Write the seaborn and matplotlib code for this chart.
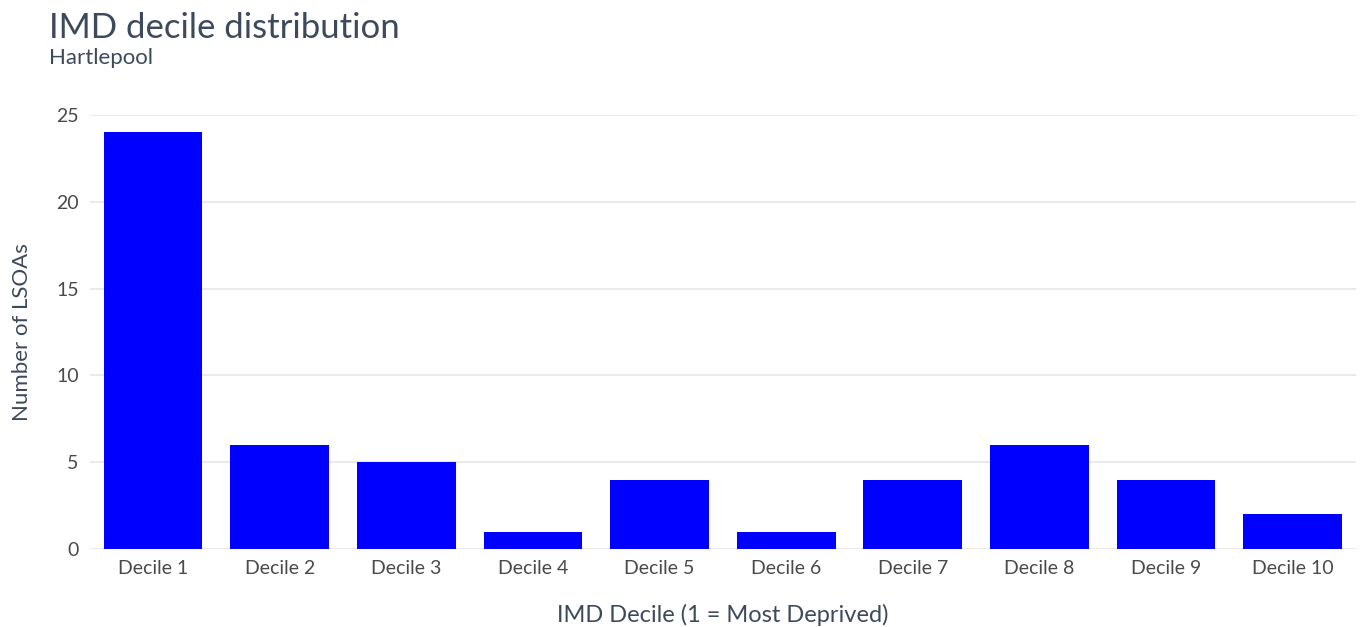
import pandas as pd
import matplotlib
matplotlib.use("Agg")
import matplotlib.pyplot as plt
import seaborn as sns

deciles = ["Decile 1", "Decile 2", "Decile 3", "Decile 4", "Decile 5",
           "Decile 6", "Decile 7", "Decile 8", "Decile 9", "Decile 10"]
lsoa_counts = [24, 6, 5, 1, 4, 1, 4, 6, 4, 2]

sns.set_theme(style="white")
plt.rcParams["font.family"] = ["Lato", "DejaVu Sans"]

df = pd.DataFrame({"decile": deciles, "count": lsoa_counts})

fig = plt.figure(figsize=(13.6, 6.27), dpi=100)
ax = fig.add_axes([0.066, 0.124, 0.931, 0.693])

ax.yaxis.grid(True, color="#e6e6e6", linewidth=1.2)
ax.set_axisbelow(True)
sns.barplot(data=df, x="decile", y="count", color="#0000ff", saturation=1,
            width=0.78, linewidth=0, ax=ax)

ax.set_ylim(0, 25)
ax.set_yticks([0, 5, 10, 15, 20, 25])
ax.set_xlim(-0.5, len(deciles) - 0.5)
for s in ax.spines.values():
    s.set_visible(False)
ax.tick_params(axis="both", length=0, labelsize=14, colors="#4a4a4a", pad=8)

ax.set_xlabel("IMD Decile (1 = Most Deprived)", fontsize=17, color="#3d4a5c", labelpad=19)
ax.set_ylabel("Number of LSOAs", fontsize=16, color="#3d4a5c", labelpad=17)

fig.text(0.036, 0.955, "IMD decile distribution", fontsize=25, color="#3d4a5c", va="center")
fig.text(0.036, 0.908, "Hartlepool", fontsize=16, color="#3d4a5c", va="center")

plt.savefig("out.png", dpi=100)
plt.close()
